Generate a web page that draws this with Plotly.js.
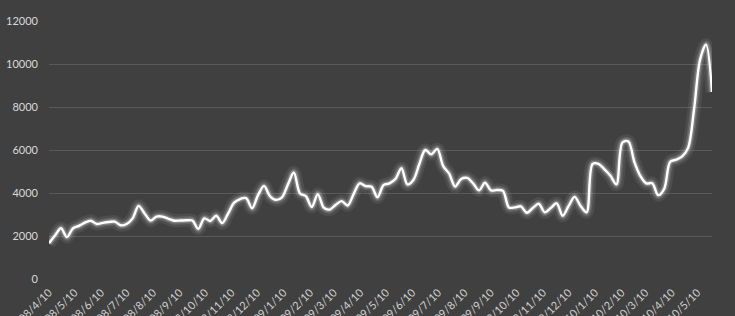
<!DOCTYPE html>
<html>
<head>
<meta charset="utf-8">
<script src="https://cdn.plot.ly/plotly-3.0.1.min.js"></script>
<style>html,body{margin:0;padding:0;background:#404040;}#chart{width:735px;height:316px;}</style>
</head>
<body>
<div id="chart"></div>
<script>
const dates = [
"2008-04-10","2008-04-17","2008-04-24","2008-05-01","2008-05-08","2008-05-15","2008-05-22","2008-05-29",
"2008-06-05","2008-06-12","2008-06-19","2008-06-26","2008-07-03","2008-07-10","2008-07-17","2008-07-24","2008-07-31",
"2008-08-07","2008-08-14","2008-08-21","2008-08-28","2008-09-04","2008-09-11","2008-09-18","2008-09-25",
"2008-10-02","2008-10-09","2008-10-16","2008-10-23","2008-10-30","2008-11-06","2008-11-13","2008-11-20","2008-11-27",
"2008-12-04","2008-12-11","2008-12-18","2008-12-25",
"2009-01-01","2009-01-08","2009-01-15","2009-01-22","2009-01-29","2009-02-05","2009-02-12","2009-02-19","2009-02-26",
"2009-03-05","2009-03-12","2009-03-19","2009-03-26","2009-04-02","2009-04-09","2009-04-16","2009-04-23","2009-04-30",
"2009-05-07","2009-05-14","2009-05-21","2009-05-28","2009-06-04","2009-06-11","2009-06-18","2009-06-25",
"2009-07-02","2009-07-09","2009-07-16","2009-07-23","2009-07-30","2009-08-06","2009-08-13","2009-08-20","2009-08-27",
"2009-09-03","2009-09-10","2009-09-17","2009-09-24","2009-10-01","2009-10-08","2009-10-15","2009-10-22","2009-10-29",
"2009-11-05","2009-11-12","2009-11-19","2009-11-26","2009-12-03","2009-12-10","2009-12-17","2009-12-24","2009-12-31",
"2010-01-07","2010-01-14","2010-01-21","2010-01-28","2010-02-04","2010-02-11","2010-02-18","2010-02-25",
"2010-03-04","2010-03-11","2010-03-18","2010-03-25","2010-04-01","2010-04-08","2010-04-15","2010-04-22","2010-04-29",
"2010-05-06","2010-05-13","2010-05-20","2010-05-27"
];
const values = [
1660,2020,2360,1950,2350,2470,2620,2710,
2560,2610,2650,2670,2500,2560,2820,3400,3050,
2720,2900,2900,2800,2710,2720,2730,2720,
2330,2820,2700,2940,2600,3050,3550,3720,3760,
3290,3900,4330,3850,
3680,3800,4400,4950,3990,3850,3350,3950,3320,
3230,3450,3620,3420,3950,4450,4320,4290,3800,
4370,4450,4650,5150,4400,4600,5350,6000,
5800,6050,5250,4900,4300,4650,4700,4450,4120,
4480,4120,4140,4100,3330,3330,3380,3080,3300,
3500,3100,3300,3520,2940,3400,3820,3400,3100,
5350,5350,5100,4800,4400,6350,6400,5450,
4800,4450,4450,3900,4200,5450,5550,5700,6100,
7900,10200,10900,8700
];
const tickDates = [
"2008-04-10","2008-05-10","2008-06-10","2008-07-10","2008-08-10","2008-09-10","2008-10-10","2008-11-10","2008-12-10",
"2009-01-10","2009-02-10","2009-03-10","2009-04-10","2009-05-10","2009-06-10","2009-07-10","2009-08-10","2009-09-10",
"2009-10-10","2009-11-10","2009-12-10","2010-01-10","2010-02-10","2010-03-10","2010-04-10","2010-05-10"
];
const tickLabels = [
"2008/4/10","2008/5/10","2008/6/10","2008/7/10","2008/8/10","2008/9/10","2008/10/10","2008/11/10","2008/12/10",
"2009/1/10","2009/2/10","2009/3/10","2009/4/10","2009/5/10","2009/6/10","2009/7/10","2009/8/10","2009/9/10",
"2009/10/10","2009/11/10","2009/12/10","2010/1/10","2010/2/10","2010/3/10","2010/4/10","2010/5/10"
];
const yTicks = [0,2000,4000,6000,8000,10000,12000];
const yTickLabels = ["0","2000","4000","6000","8000","10000","12000"];

const base = {x: dates, y: values, type: 'scatter', mode: 'lines', hoverinfo: 'skip', showlegend: false};
const traces = [
  Object.assign({}, base, {line: {color: 'rgba(255,255,255,0.07)', width: 13, shape: 'spline', smoothing: 0.9}}),
  Object.assign({}, base, {line: {color: 'rgba(255,255,255,0.12)', width: 8, shape: 'spline', smoothing: 0.9}}),
  Object.assign({}, base, {line: {color: 'rgba(255,255,255,0.22)', width: 5, shape: 'spline', smoothing: 0.9}}),
  Object.assign({}, base, {line: {color: '#ffffff', width: 2.4, shape: 'spline', smoothing: 0.9}})
];

const layout = {
  width: 735, height: 316,
  paper_bgcolor: '#404040', plot_bgcolor: '#404040',
  margin: {l: 49, r: 23, t: 21, b: 37},
  font: {family: 'Lato, "Open Sans", sans-serif', color: '#d9d9d9', size: 11},
  xaxis: {
    type: 'date',
    range: [dates[0], dates[dates.length - 1]],
    tickmode: 'array', tickvals: tickDates, ticktext: tickLabels,
    tickangle: -45, showgrid: false, zeroline: false, showline: false, ticks: '',
    tickfont: {family: 'Lato, sans-serif', size: 11, color: '#d0d0d0'},
    ticklabelstandoff: 4
  },
  yaxis: {
    range: [0, 12000], tickmode: 'array', tickvals: yTicks, ticktext: yTickLabels,
    showgrid: true, gridcolor: '#5a5a5a', gridwidth: 1,
    zeroline: true, zerolinecolor: '#404040', showline: false, ticks: '',
    tickfont: {family: 'Lato, sans-serif', size: 11, color: '#d9d9d9'},
    ticklabelstandoff: 10
  }
};
Plotly.newPlot('chart', traces, layout, {staticPlot: true, displayModeBar: false});
</script>
</body>
</html>
